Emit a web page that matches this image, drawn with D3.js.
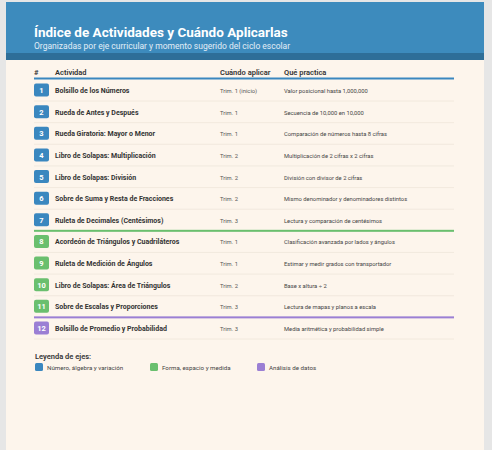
<!DOCTYPE html><html><head><meta charset="utf-8">
<script src="https://cdn.jsdelivr.net/npm/d3@7"></script>
<style>body{margin:0;background:#e6e6e6;font-family:Roboto,sans-serif}</style></head><body>
<svg id="c" width="492" height="450"></svg>
<script>
const nums=[1,2,3,4,5,6,7,8,9,10,11,12];
const activities=["Bolsillo de los Números","Rueda de Antes y Después","Rueda Giratoria: Mayor o Menor","Libro de Solapas: Multiplicación","Libro de Solapas: División","Sobre de Suma y Resta de Fracciones","Ruleta de Decimales (Centésimos)","Acordeón de Triángulos y Cuadriláteros","Ruleta de Medición de Ángulos","Libro de Solapas: Área de Triángulos","Sobre de Escalas y Proporciones","Bolsillo de Promedio y Probabilidad"];
const whenApply=["Trim. 1 (inicio)","Trim. 1","Trim. 1","Trim. 2","Trim. 2","Trim. 2","Trim. 3","Trim. 1","Trim. 1","Trim. 2","Trim. 3","Trim. 3"];
const practices=["Valor posicional hasta 1,000,000","Secuencia de 10,000 en 10,000","Comparación de números hasta 8 cifras","Multiplicación de 2 cifras x 2 cifras","División con divisor de 2 cifras","Mismo denominador y denominadores distintos","Lectura y comparación de centésimos","Clasificación avanzada por lados y ángulos","Estimar y medir grados con transportador","Base x altura ÷ 2","Lectura de mapas y planos a escala","Media aritmética y probabilidad simple"];
const axes=[0,0,0,0,0,0,0,1,1,1,1,2];
const axisNames=["Número, álgebra y variación","Forma, espacio y medida","Análisis de datos"];
const axisColors=["#3a87bf","#6abf6e","#9b7fd4"];
const headers=["#","Actividad","Cuándo aplicar","Qué practica"];
const svg=d3.select("#c");
svg.append("rect").attr("x",6).attr("y",2).attr("width",478).attr("height",448).attr("fill","#fdf5ec");
svg.append("rect").attr("x",6).attr("y",2).attr("width",478).attr("height",52).attr("fill","#3d8bbd");
svg.append("rect").attr("x",6).attr("y",53).attr("width",478).attr("height",7).attr("fill","#2e6e98");
svg.append("text").attr("x",34).attr("y",37).text("Índice de Actividades y Cuándo Aplicarlas").attr("fill","#fff").attr("font-size",13.5).attr("font-weight","bold");
svg.append("text").attr("x",34).attr("y",49).text("Organizadas por eje curricular y momento sugerido del ciclo escolar").attr("fill","#e3eef7").attr("font-size",8.5);
const colX=[34,55,220,284];
headers.forEach((h,i)=>svg.append("text").attr("x",colX[i]).attr("y",75).text(h).attr("font-size",7.5).attr("font-weight",600).attr("fill","#333"));
svg.append("rect").attr("x",34).attr("y",77.5).attr("width",420).attr("height",2).attr("fill",axisColors[0]);
const y=d3.scaleLinear().domain([1,12]).range([90,328]);
nums.forEach((n,i)=>{
  const cy=y(n);
  const g=svg.append("g");
  const boundary=i<11&&axes[i+1]!==axes[i];
  if(boundary) g.append("rect").attr("x",34).attr("y",cy+10).attr("width",420).attr("height",2).attr("fill",axisColors[axes[i+1]]);
  else g.append("line").attr("x1",34).attr("x2",454).attr("y1",cy+11).attr("y2",cy+11).attr("stroke","#efe6da").attr("stroke-width",0.8);
  g.append("rect").attr("x",34).attr("y",cy-6.5).attr("width",15).attr("height",13).attr("rx",2).attr("fill",axisColors[axes[i]]);
  g.append("text").attr("x",41.5).attr("y",cy+3).attr("text-anchor","middle").text(n).attr("fill","#fff").attr("font-size",7.5).attr("font-weight","bold");
  g.append("text").attr("x",55).attr("y",cy+3).text(activities[i]).attr("font-size",7).attr("font-weight","bold").attr("fill","#333");
  g.append("text").attr("x",220).attr("y",cy+3).text(whenApply[i]).attr("font-size",5.8).attr("fill","#555");
  g.append("text").attr("x",284).attr("y",cy+3).text(practices[i]).attr("font-size",5.8).attr("fill","#444");
});
svg.append("text").attr("x",35).attr("y",359).text("Leyenda de ejes:").attr("font-size",7.5).attr("font-weight",600).attr("fill","#333");
const lx=[35,150,257];
axisNames.forEach((a,i)=>{
  svg.append("rect").attr("x",lx[i]).attr("y",363).attr("width",8).attr("height",8).attr("rx",1.5).attr("fill",axisColors[i]);
  svg.append("text").attr("x",lx[i]+12).attr("y",369.5).text(a).attr("font-size",6.2).attr("fill","#444");
});
</script></body></html>
